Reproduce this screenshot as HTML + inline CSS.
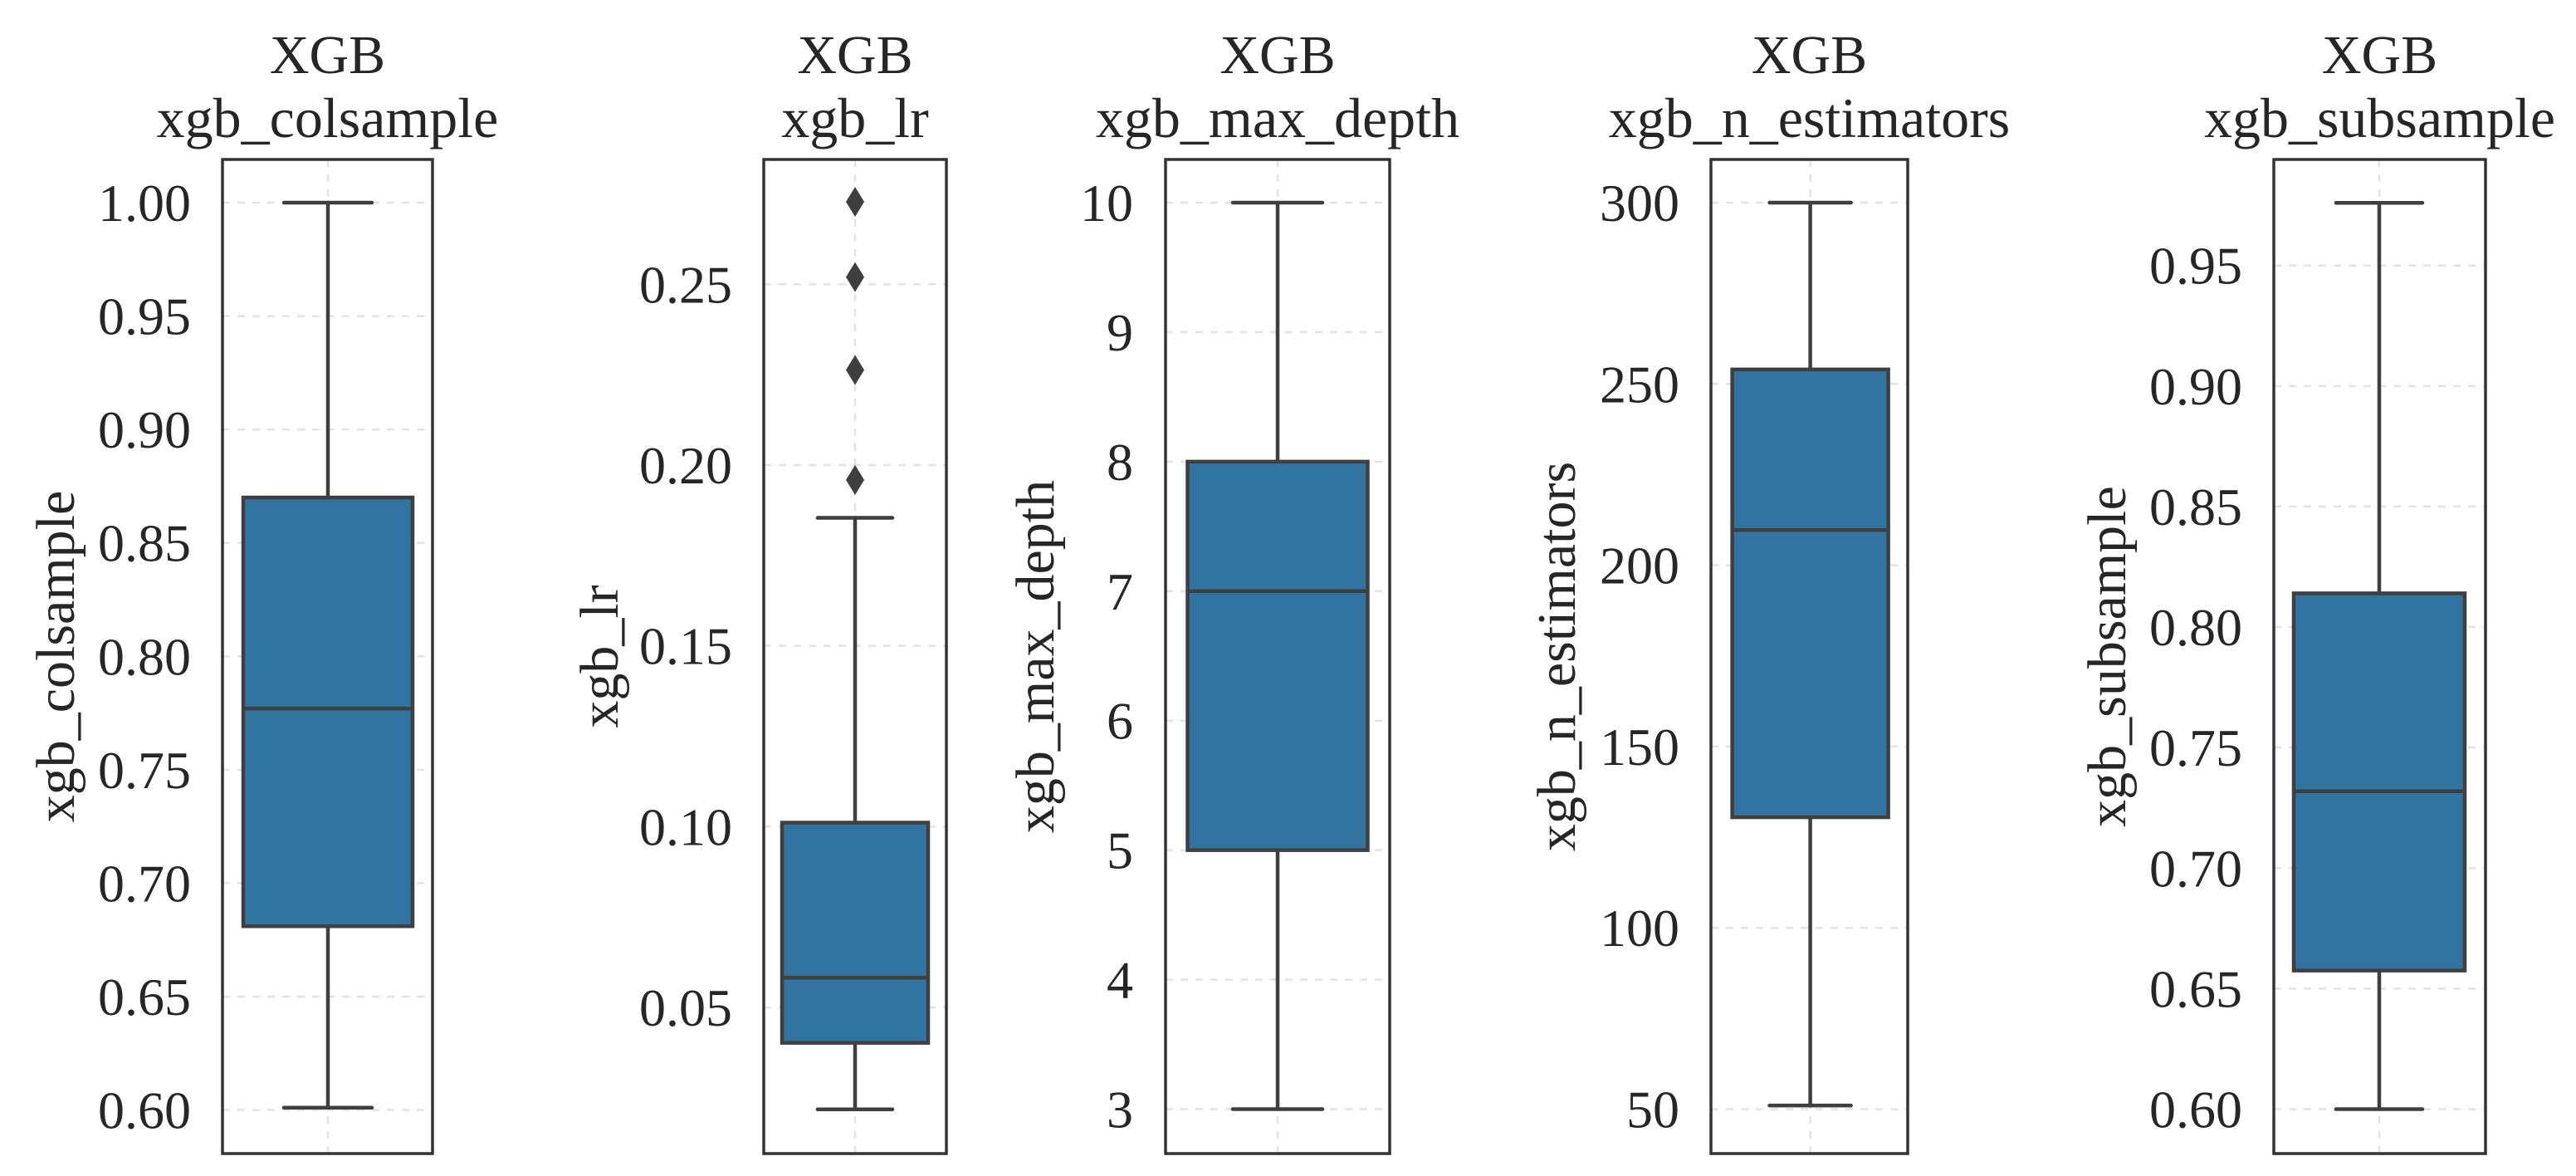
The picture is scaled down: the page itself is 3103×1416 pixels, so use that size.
<!DOCTYPE html>
<html><head><meta charset="utf-8"><style>
html,body{margin:0;padding:0;background:#fff;}
svg{display:block;}
text{font-family:"Liberation Serif",serif;fill:#262626;}
</style></head><body>
<svg id="chart" width="3103" height="1416" viewBox="0 0 3103 1416" xmlns="http://www.w3.org/2000/svg"></svg>
<script>
// ---- data ----
const panelNames = ["xgb_colsample","xgb_lr","xgb_max_depth","xgb_n_estimators","xgb_subsample"];
const whiskerLow = [0.601, 0.0218, 3, 51, 0.600];
const q1Values = [0.681, 0.0402, 5, 130.5, 0.6575];
const medianValues = [0.777, 0.0582, 7, 209.7, 0.7319];
const q3Values = [0.870, 0.1011, 8, 254, 0.814];
const whiskerHigh = [1.000, 0.1854, 10, 300, 0.976];
const outliersLr = [0.2728, 0.2520, 0.2263, 0.1959];
const ticks0 = ["0.60","0.65","0.70","0.75","0.80","0.85","0.90","0.95","1.00"];
const ticks1 = ["0.05","0.10","0.15","0.20","0.25"];
const ticks2 = ["3","4","5","6","7","8","9","10"];
const ticks3 = ["50","100","150","200","250","300"];
const ticks4 = ["0.60","0.65","0.70","0.75","0.80","0.85","0.90","0.95"];
const tickSets = [ticks0,ticks1,ticks2,ticks3,ticks4];
const outlierSets = [[], outliersLr, [], [], []];

// ---- layout (pixels) ----
const layout = [
 {l:268,r:521,cx:395,bh:102,ch:53,lab:67,tick:230, y0:0.60,p0:1336.5,y1:1.00,p1:244},
 {l:920,r:1140,cx:1030,bh:88,ch:45,lab:722,tick:882, y0:0.05,p0:1213,y1:0.25,p1:342.3},
 {l:1404,r:1674,cx:1539,bh:108.5,ch:54,lab:1247,tick:1365, y0:3,p0:1335.5,y1:10,p1:244},
 {l:2061,r:2298,cx:2180.6,bh:94,ch:49,lab:1875,tick:2023, y0:50,p0:1335.5,y1:300,p1:244},
 {l:2739,r:2994,cx:2866,bh:103,ch:52,lab:2538,tick:2701, y0:0.60,p0:1335.5,y1:0.95,p1:319.7}
];
const TOP=192, BOT=1389;
const NS="http://www.w3.org/2000/svg";
const svg=document.getElementById('chart');
function mk(tag,attrs,parent){const e=document.createElementNS(NS,tag);for(const k in attrs)e.setAttribute(k,attrs[k]);(parent||svg).appendChild(e);return e;}

panelNames.forEach((name,i)=>{
  const L=layout[i];
  const y=v=>L.p0+(v-L.y0)*(L.p1-L.p0)/(L.y1-L.y0);
  const g=mk('g',{});
  
  
  tickSets[i].forEach(t=>{
    const gl=mk('line',{x1:L.l,x2:L.r,y1:y(parseFloat(t)),y2:y(parseFloat(t)),stroke:'#e3e3e3','stroke-width':2.5,'stroke-dasharray':'9,9'},g);
    
    
    const tl=mk('text',{x:L.tick,y:y(parseFloat(t))+22,'text-anchor':'end','font-size':64},g);
    tl.textContent=t;
    
    
  });
  const vg=mk('line',{x1:L.cx,x2:L.cx,y1:TOP,y2:BOT,stroke:'#e3e3e3','stroke-width':2.5,'stroke-dasharray':'9,9'},g);
  
  
  const st={stroke:'#3f3f3f','stroke-width':4.5,'stroke-linecap':'round'};
  const w1=mk('line',Object.assign({x1:L.cx,x2:L.cx,y1:y(q3Values[i]),y2:y(whiskerHigh[i])},st),g);
  
  
  const w2=mk('line',Object.assign({x1:L.cx,x2:L.cx,y1:y(q1Values[i]),y2:y(whiskerLow[i])},st),g);
  
  
  const c1=mk('line',Object.assign({x1:L.cx-L.ch,x2:L.cx+L.ch,y1:y(whiskerHigh[i]),y2:y(whiskerHigh[i])},st),g);
  
  
  const c2=mk('line',Object.assign({x1:L.cx-L.ch,x2:L.cx+L.ch,y1:y(whiskerLow[i]),y2:y(whiskerLow[i])},st),g);
  
  
  const bx=mk('rect',{x:L.cx-L.bh,y:y(q3Values[i]),width:2*L.bh,height:y(q1Values[i])-y(q3Values[i]),fill:'#3274a1',stroke:'#3f3f3f','stroke-width':4.5},g);
  
  
  const md=mk('line',{x1:L.cx-L.bh,x2:L.cx+L.bh,y1:y(medianValues[i]),y2:y(medianValues[i]),stroke:'#3f3f3f','stroke-width':4.5},g);
  
  
  outlierSets[i].forEach(v=>{
    const yy=y(v);
    const o=mk('polygon',{points:`${L.cx},${yy-18} ${L.cx+11},${yy} ${L.cx},${yy+18} ${L.cx-11},${yy}`,fill:'#3f3f3f'},g);
    
    
  });
  const fr=mk('rect',{x:L.l,y:TOP,width:L.r-L.l,height:BOT-TOP,fill:'none',stroke:'#333','stroke-width':3.5},g);
  
  
  const mid=(L.l+L.r)/2;
  const t1=mk('text',{x:mid,y:88,'text-anchor':'middle','font-size':66},g);
  t1.textContent='XGB';
  
  
  const t2=mk('text',{x:mid,y:165,'text-anchor':'middle','font-size':68},g);
  t2.textContent=name;
  
  
  const yl=mk('text',{x:0,y:0,'text-anchor':'middle','font-size':66,transform:`translate(${L.lab+22},${(TOP+BOT)/2}) rotate(-90)`},g);
  yl.textContent=name;
  
  
});
</script>
</body></html>
